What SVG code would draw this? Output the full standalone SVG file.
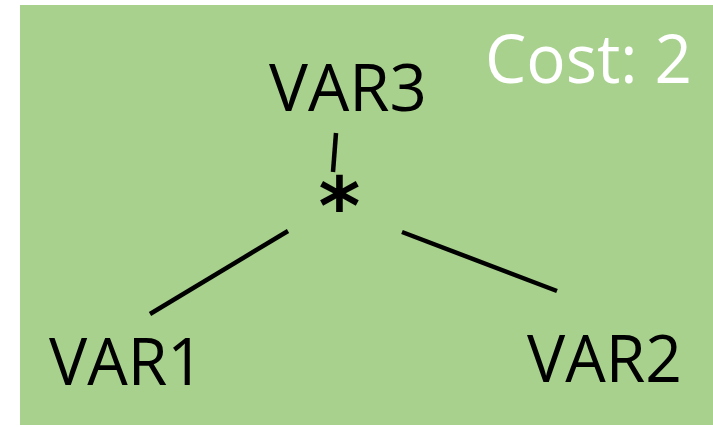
<svg xmlns="http://www.w3.org/2000/svg" width="713" height="427" viewBox="0 0 713 427">
<style>
.lbl{font-family:"Open Sans","Liberation Sans",Arial,sans-serif;font-size:66px;fill:#000}
.cost{font-family:"Open Sans","Liberation Sans",Arial,sans-serif;font-size:67px;fill:#fff}
.edge{stroke:#000;stroke-width:4.5;fill:none}
</style>
<rect x="0" y="0" width="713" height="427" fill="#fff"/>
<rect x="20" y="5" width="693" height="420" fill="#a9d18e"/>
<text class="cost" x="485" y="83" textLength="207" lengthAdjust="spacingAndGlyphs">Cost: 2</text>
<g id="connectors">
<line class="edge" x1="336" y1="133" x2="333" y2="172"/>
<line class="edge" x1="288" y1="231" x2="150" y2="314"/>
<line class="edge" x1="402" y1="232" x2="557" y2="291"/>
</g>
<g id="node-var3"><text class="lbl" x="269" y="110.5" textLength="158" lengthAdjust="spacingAndGlyphs">VAR3</text></g>
<g id="node-mul"><text x="339.5" y="234" text-anchor="middle" style="font-family:'DejaVu Sans',sans-serif;font-size:80px;font-weight:bold">*</text></g>
<g id="node-var1"><text class="lbl" x="49" y="385" textLength="155" lengthAdjust="spacingAndGlyphs">VAR1</text></g>
<g id="node-var2"><text class="lbl" x="527" y="381.5" textLength="155" lengthAdjust="spacingAndGlyphs">VAR2</text></g>
</svg>
